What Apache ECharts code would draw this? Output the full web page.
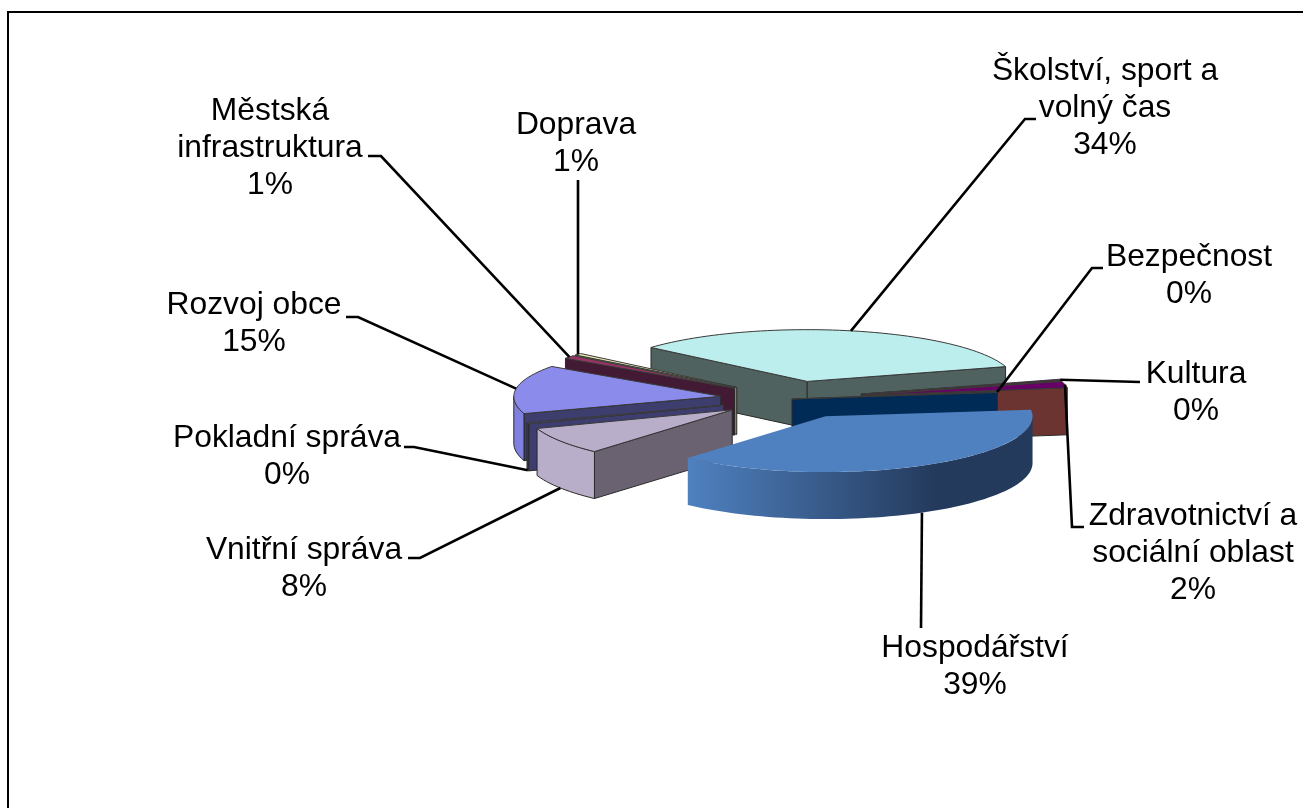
<!DOCTYPE html>
<html>
<head>
<meta charset="utf-8">
<style>html,body{margin:0;padding:0;background:#fff}#chart{width:1303px;height:808px}</style>
<script src="https://cdn.jsdelivr.net/npm/echarts@6/dist/echarts.min.js"></script>
</head>
<body>
<div id="chart"></div>
<script>
// podily v poradi po smeru hodinovych rucicek, zacina Skolstvi
var categories = ['Školství, sport a\nvolný čas', 'Kultura', 'Zdravotnictví a\nsociální oblast', 'Bezpečnost', 'Hospodářství', 'Vnitřní správa', 'Pokladní správa', 'Rozvoj obce', 'Městská\ninfrastruktura', 'Doprava'];
var values = [34, 0.3, 2, 0.3, 38.6, 8, 0.4, 14.8, 1, 0.6];
var percentLabels = ['34%', '0%', '2%', '0%', '39%', '8%', '0%', '15%', '1%', '1%'];

var topColors = ['#bdeeee', '#660066', '#660066', '#002b57', '#4f81c0', '#b9aec9', '#4a4a85', '#8b8bec', '#993366', '#e9e9b4'];
var wallColors = ['#50625f', '#6b3431', '#6b3431', '#002b57', '#4f81c0', '#6a6270', '#3d3d70', '#3d3d6e', '#431a33', '#8a8a60'];
var arcColors = ['#9fc8c8', '#6b3431', '#6b3431', '#002b57', '#4f81c0', '#b9aec9', '#3d3d70', '#8080e0', '#431a33', '#8a8a60'];
var explode = [72, 72, 72, 0, 72, 72, 72, 72, 72, 72];
var drawOrder = [0, 9, 8, 1, 2, 3, 7, 6, 5, 4];

// popisky: stred textu a lomene body odkazove cary
var labelPos = [[1105, 70], [1196, 373], [1193, 515], [1189, 256], [975, 647], [304, 549], [287, 437], [254, 304], [270, 110], [576, 124]];
var leaderPts = [
	[[1025, 119], [1036, 119]],
	[[1140, 382]],
	[[1072, 527], [1084, 527]],
	[[1092, 268], [1103, 268]],
	[[921, 628]],
	[[420, 558], [408, 558]],
	[[414, 447], [404, 447]],
	[[358, 317], [346, 317]],
	[[381, 156], [368, 156]],
	[[578, 180]]
];

var centerX = 792, centerY = 399, radius = 207, depth = 47;
var kBack = 0.25, kFront = 0.27, startAngle = -49;

var total = values.reduce(function (a, b) { return a + b; }, 0);
var starts = [], ends = [];
var acc = startAngle;
for (var i = 0; i < values.length; i++) {
	starts.push(acc);
	acc += values[i] / total * 360;
	ends.push(acc);
}

function project(deg, r) {
	var t = deg * Math.PI / 180;
	var c = Math.cos(t);
	return [Math.sin(t) * r, -c * r * (c < 0 ? kFront : kBack)];
}
function apexOf(i) {
	var o = project((starts[i] + ends[i]) / 2, explode[i]);
	return [centerX + o[0], centerY + o[1]];
}
function rimPoint(i, deg) {
	var a = apexOf(i), o = project(deg, radius);
	return [a[0] + o[0], a[1] + o[1]];
}
function down(p) {
	return [p[0], p[1] + depth];
}
function poly(points, fill, stroke) {
	return {
		type: 'polygon',
		shape: {points: points},
		style: {fill: fill, stroke: stroke, lineWidth: stroke ? 1 : 0, lineJoin: 'round'}
	};
}
function wall(i, deg) {
	var a = apexOf(i), p = rimPoint(i, deg);
	return poly([a, p, down(p), down(a)], wallColors[i], '#2a2a2a');
}

function renderSlice(params, api) {
	var i = api.value(0);
	var s = starts[i], e = ends[i];
	var children = [];
	// bocni steny
	if (Math.sin(s * Math.PI / 180) < 0) children.push(wall(i, s));
	if (Math.sin(e * Math.PI / 180) > 0) children.push(wall(i, e));
	// vnejsi oblouk, jen predni cast
	var from = Math.max(s, 90), to = Math.min(e, 270);
	if (to > from) {
		var upper = [], lower = [];
		for (var d = from; d < to; d += 2) upper.push(rimPoint(i, d));
		upper.push(rimPoint(i, to));
		for (var k = upper.length - 1; k >= 0; k--) lower.push(down(upper[k]));
		var fill = arcColors[i];
		var stroke = '#2a2a2a';
		if (i === 4) {
			fill = new echarts.graphic.LinearGradient(0, 0, 1, 0, [
				{offset: 0, color: '#4f81c0'},
				{offset: 0.72, color: '#243a5c'},
				{offset: 1, color: '#243a5c'}
			]);
			stroke = null;
		}
		children.push(poly(upper.concat(lower), fill, stroke));
	}
	// horni plocha
	var pts = [apexOf(i)];
	for (var d2 = s; d2 < e; d2 += 2) pts.push(rimPoint(i, d2));
	pts.push(rimPoint(i, e));
	children.push(poly(pts, topColors[i], i === 4 ? null : '#3a3a3a'));
	return {type: 'group', children: children};
}

function renderLabel(params, api) {
	var i = api.value(0);
	var mid = (starts[i] + ends[i]) / 2;
	var anchor = rimPoint(i, mid);
	if (Math.cos(mid * Math.PI / 180) < 0) anchor = down(anchor);
	return {
		type: 'group',
		children: [{
			type: 'polyline',
			shape: {points: [anchor].concat(leaderPts[i])},
			style: {fill: null, stroke: '#000', lineWidth: 2.6}
		}, {
			type: 'text',
			x: labelPos[i][0],
			y: labelPos[i][1] - 17,
			style: {
				text: categories[i] + '\n' + percentLabels[i],
				fill: '#000',
				font: '31.8px "Liberation Sans", Arial, sans-serif',
				lineHeight: 36.7,
				align: 'center',
				verticalAlign: 'top'
			}
		}]
	};
}

var sliceData = drawOrder.map(function (i) { return [i, values[i]]; });
var labelData = values.map(function (v, i) { return [i, v]; });

var myChart = echarts.init(document.getElementById('chart'));
myChart.setOption({
	animation: false,
	backgroundColor: '#fff',
	graphic: [{
		type: 'rect',
		shape: {x: 8, y: 12, width: 1330, height: 830},
		style: {fill: null, stroke: '#000', lineWidth: 2},
		z: 0
	}],
	series: [
		{type: 'custom', coordinateSystem: 'none', renderItem: renderSlice, data: sliceData, z: 2},
		{type: 'custom', coordinateSystem: 'none', renderItem: renderLabel, data: labelData, z: 3}
	]
});
</script>
</body>
</html>
